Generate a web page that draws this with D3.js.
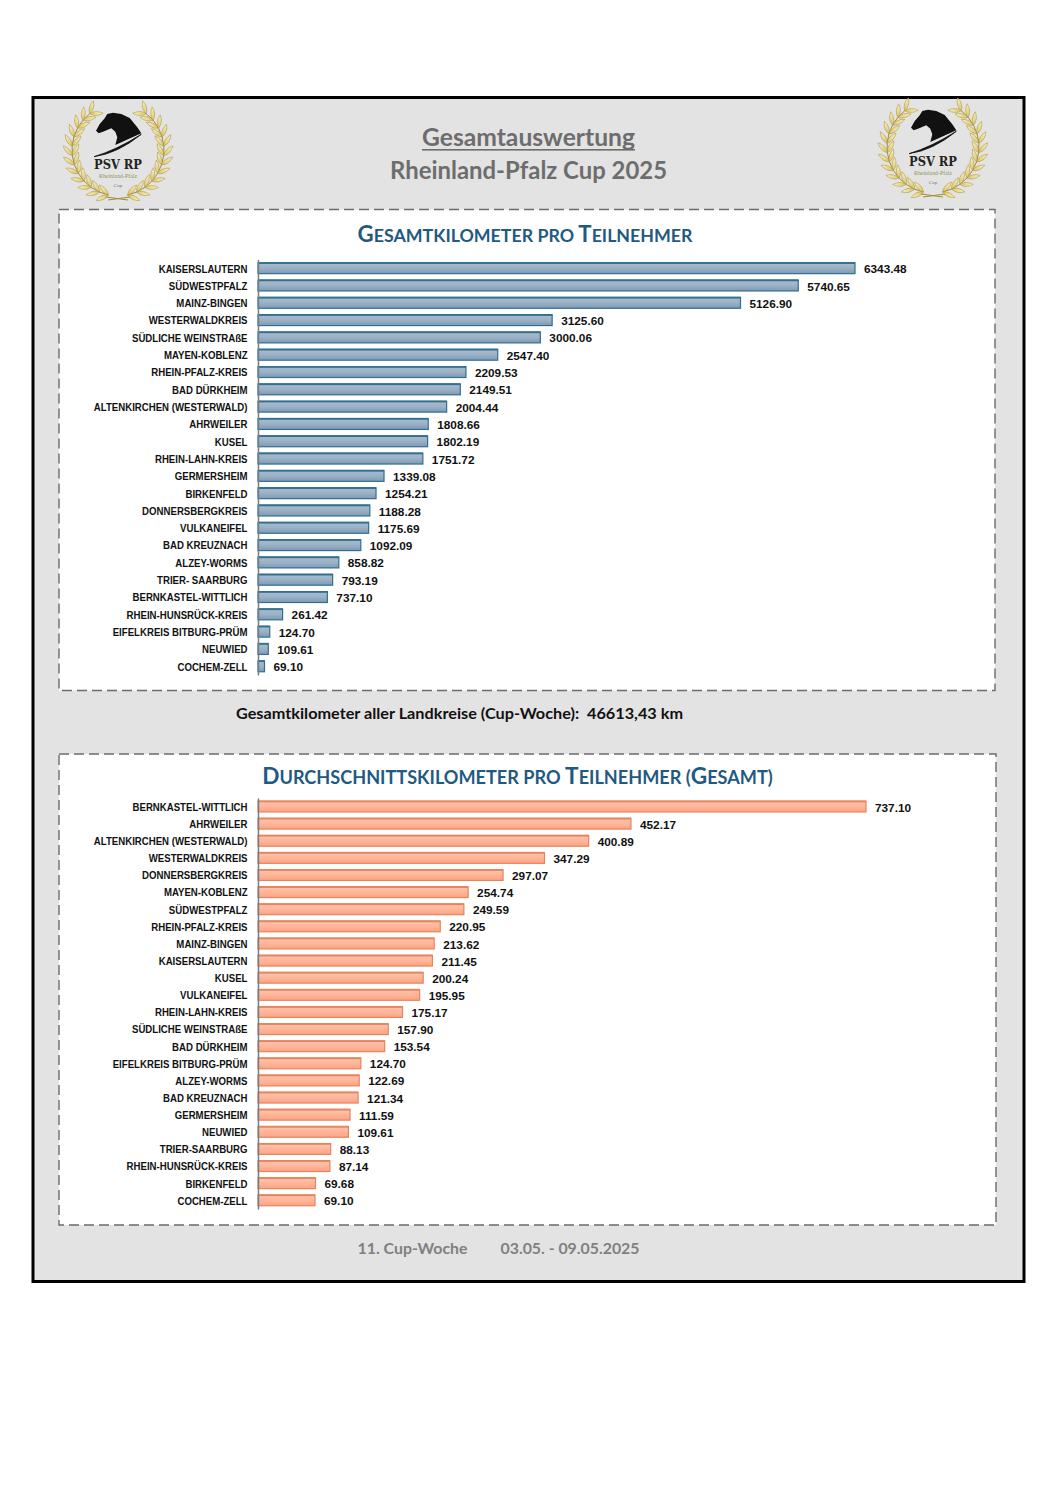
<!DOCTYPE html>
<html><head><meta charset="utf-8">
<script src="https://cdnjs.cloudflare.com/ajax/libs/d3/7.8.5/d3.min.js"></script>
<style>html,body{margin:0;padding:0;background:#fff}svg{display:block}</style>
</head><body><svg id="c" width="1058" height="1497"></svg>
<script>
const totalCats=["KAISERSLAUTERN","SÜDWESTPFALZ","MAINZ-BINGEN","WESTERWALDKREIS","SÜDLICHE WEINSTRAßE","MAYEN-KOBLENZ","RHEIN-PFALZ-KREIS","BAD DÜRKHEIM","ALTENKIRCHEN (WESTERWALD)","AHRWEILER","KUSEL","RHEIN-LAHN-KREIS","GERMERSHEIM","BIRKENFELD","DONNERSBERGKREIS","VULKANEIFEL","BAD KREUZNACH","ALZEY-WORMS","TRIER- SAARBURG","BERNKASTEL-WITTLICH","RHEIN-HUNSRÜCK-KREIS","EIFELKREIS BITBURG-PRÜM","NEUWIED","COCHEM-ZELL"];
const totalVals=[6343.48,5740.65,5126.90,3125.60,3000.06,2547.40,2209.53,2149.51,2004.44,1808.66,1802.19,1751.72,1339.08,1254.21,1188.28,1175.69,1092.09,858.82,793.19,737.10,261.42,124.70,109.61,69.10];
const avgCats=["BERNKASTEL-WITTLICH","AHRWEILER","ALTENKIRCHEN (WESTERWALD)","WESTERWALDKREIS","DONNERSBERGKREIS","MAYEN-KOBLENZ","SÜDWESTPFALZ","RHEIN-PFALZ-KREIS","MAINZ-BINGEN","KAISERSLAUTERN","KUSEL","VULKANEIFEL","RHEIN-LAHN-KREIS","SÜDLICHE WEINSTRAßE","BAD DÜRKHEIM","EIFELKREIS BITBURG-PRÜM","ALZEY-WORMS","BAD KREUZNACH","GERMERSHEIM","NEUWIED","TRIER-SAARBURG","RHEIN-HUNSRÜCK-KREIS","BIRKENFELD","COCHEM-ZELL"];
const avgVals=[737.10,452.17,400.89,347.29,297.07,254.74,249.59,220.95,213.62,211.45,200.24,195.95,175.17,157.90,153.54,124.70,122.69,121.34,111.59,109.61,88.13,87.14,69.68,69.10];

const svg=d3.select("#c");
const defs=svg.append("defs");
function grad(id,a,b,c){const g=defs.append("linearGradient").attr("id",id).attr("x1",0).attr("y1",0).attr("x2",0).attr("y2",1);
 g.append("stop").attr("offset","0").attr("stop-color",a);g.append("stop").attr("offset","0.5").attr("stop-color",b);g.append("stop").attr("offset","1").attr("stop-color",c);}
grad("gB","#a9bdcf","#9bb1c6","#7f9ab4");
grad("gO","#ffc4ad","#ffb69b","#fda283");
const gg=defs.append("linearGradient").attr("id","gold").attr("x1",0).attr("y1",0).attr("x2",0).attr("y2",1);
gg.append("stop").attr("offset","0").attr("stop-color","#f8f2c4");gg.append("stop").attr("offset","1").attr("stop-color","#dcc566");

svg.append("rect").attr("x",33).attr("y",97.5).attr("width",991).attr("height",1184).attr("fill","#e3e3e3").attr("stroke","#000").attr("stroke-width",3);

[[59,209.5,936,481],[59,754,937,471]].forEach(p=>{
 svg.append("rect").attr("x",p[0]).attr("y",p[1]).attr("width",p[2]).attr("height",p[3]).attr("fill","#fff").attr("stroke","#6b6b6b").attr("stroke-width",1.4).attr("stroke-dasharray","10,5");
});

const T=(x,y,s,size,fill,w)=>svg.append("text").attr("x",x).attr("y",y).text(s).attr("font-family","Lato").attr("font-weight",700).attr("font-size",size).attr("fill",fill).attr("text-anchor","middle").attr("textLength",w).attr("lengthAdjust","spacingAndGlyphs").style("white-space","pre");
T(528.5,146,"Gesamtauswertung",25,"#6d6d6d",213);
svg.append("rect").attr("x",422).attr("y",149).attr("width",213).attr("height",1.6).attr("fill","#6d6d6d");
T(528.5,179,"Rheinland-Pfalz Cup 2025",25,"#6d6d6d",277);
T(459.5,719,"Gesamtkilometer aller Landkreise (Cup-Woche):  46613,43 km",15.5,"#111",447);
T(412.5,1254,"11. Cup-Woche",15.5,"#808080",110);
T(570,1254,"03.05. - 09.05.2025",15.5,"#808080",139);

function scTitle(x,y,w,parts){
 const t=svg.append("text").attr("x",x).attr("y",y).attr("text-anchor","middle").attr("font-family","Lato").attr("font-weight",700).attr("fill","#1f5a82");
 const sp=parts.map(p=>t.append("tspan").attr("font-size",p[1]?25:20).text(p[0]));
 const k=w/t.node().getComputedTextLength();
 sp.forEach((s,i)=>s.attr("font-size",(parts[i][1]?25:20)*k));
}
scTitle(525,241.5,335,[["G",1],["ESAMTKILOMETER PRO ",0],["T",1],["EILNEHMER",0]]);
scTitle(517.5,784,511,[["D",1],["URCHSCHNITTSKILOMETER PRO ",0],["T",1],["EILNEHMER (",0],["G",1],["ESAMT)",0]]);

function chart(cats,vals,o){
 const x=d3.scaleLinear().domain([0,o.max]).range([258,o.xEnd]);
 const y=d3.scaleBand().domain(cats).range([o.yTop,o.yBot]).paddingInner(o.pad).paddingOuter(o.pad/2);
 const g=svg.append("g");
 g.selectAll("rect.bar").data(vals).join("rect").attr("class","bar")
  .attr("x",x(0)).attr("y",(d,i)=>y(cats[i])).attr("width",d=>x(d)-x(0)).attr("height",y.bandwidth())
  .attr("fill",`url(#${o.grad})`).attr("stroke",o.stroke).attr("stroke-width",1.2);
 g.selectAll("rect.top").data(vals).join("rect").attr("class","top")
  .attr("x",x(0)).attr("y",(d,i)=>y(cats[i])-.6).attr("width",d=>x(d)-x(0)).attr("height",1.8)
  .attr("fill",o.stroke);
 const ax=d3.axisLeft(y).tickSize(0).tickPadding(10.5);
 const a=g.append("g").attr("transform",`translate(258,0)`).call(ax);
 a.select(".domain").attr("stroke","#6f7f8c").attr("stroke-width",1.5);
 a.selectAll("text").attr("font-family","Liberation Sans").attr("font-weight",700).attr("font-size",10.3).attr("fill","#111").attr("y",o.labelDy)
  .each(function(){d3.select(this).attr("textLength",this.getComputedTextLength()*0.935).attr("lengthAdjust","spacingAndGlyphs")});
 g.selectAll("text.v").data(vals).join("text").attr("class","v")
  .attr("x",d=>x(d)+9).attr("y",(d,i)=>y(cats[i])+y.bandwidth()/2+5)
  .text(d=>d.toFixed(2)).attr("font-family","Liberation Sans").attr("font-weight",700).attr("font-size",11.8).attr("fill","#111");
}
chart(totalCats,totalVals,{max:6343.48,xEnd:855,yTop:259.55,yBot:674.95,pad:0.37,grad:"gB",stroke:"#33708f",labelDy:1});
chart(avgCats,avgVals,{max:737.1,xEnd:866,yTop:798,yBot:1208.9,pad:0.37,grad:"gO",stroke:"#e8845a",labelDy:1});

// emblem (decorative artwork)
const horse="M-10.7,-36L-13.3,-31.7L-18.3,-26L-22,-19.3L-19.3,-16.7L-15,-18.3L-6.7,-21.7L-2.7,-18.3L-.7,-12.7L-2.7,-5L6.7,-9.3L23.3,-16.7L19.3,-22.7L11.7,-32L3.3,-36L-5,-37.3Z";
const crescent="M-24,6.7Q0,3.3 23.3,-15.7Q-1.7,0 -24,6.7Z";
function logo(cx,cy){
 const g=svg.append("g").attr("transform",`translate(${cx},${cy})`);
 const R=46, A0=168, A1=38, N=11;
 [-1,1].forEach(s=>{
  const side=g.append("g").attr("transform",`scale(${s},1)`);
  const pt=a=>[R*Math.sin(a*Math.PI/180),-R*Math.cos(a*Math.PI/180)];
  side.append("path").attr("d",d3.line()(d3.range(0,N+1).map(k=>pt(A0-(A0-A1)*k/N)))).attr("fill","none").attr("stroke","#a08a3c").attr("stroke-width",1);
  d3.range(0,N+1).forEach(k=>{
   const a=A0-(A0-A1)*k/N, p=pt(a);
   const dir=a-90;
   [-36,36].forEach(d=>{
    side.append("path").attr("d","M0,0Q4,-6 0,-13.5Q-4,-6 0,0Z")
     .attr("transform",`translate(${p[0]},${p[1]}) rotate(${dir+d})`)
     .attr("fill","url(#gold)").attr("stroke","#a8903a").attr("stroke-width",.5);
   });
  });
 });
 g.append("path").attr("d","M-12,47L10,50M12,47L-10,50").attr("stroke","#a08a3c").attr("stroke-width",1).attr("fill","none");
 g.append("path").attr("d",horse).attr("fill","#111");
 g.append("path").attr("d",crescent).attr("fill","#111").attr("stroke","#111").attr("stroke-width",.8);
 g.append("text").attr("y",18.5).attr("text-anchor","middle").attr("font-family","DejaVu Serif").attr("font-weight",700).attr("font-size",12).attr("textLength",48).attr("lengthAdjust","spacingAndGlyphs").attr("fill","#222").text("PSV RP");
 g.append("text").attr("y",28).attr("text-anchor","middle").attr("font-family","Liberation Serif").attr("font-size",6).attr("textLength",38).attr("lengthAdjust","spacingAndGlyphs").attr("fill","#8c9a5a").text("Rheinland-Pfalz");
 g.append("text").attr("y",37).attr("text-anchor","middle").attr("font-family","Liberation Serif").attr("font-size",5).attr("fill","#777").text("Cup");
}
logo(118,150);
logo(933,147);
</script></body></html>
